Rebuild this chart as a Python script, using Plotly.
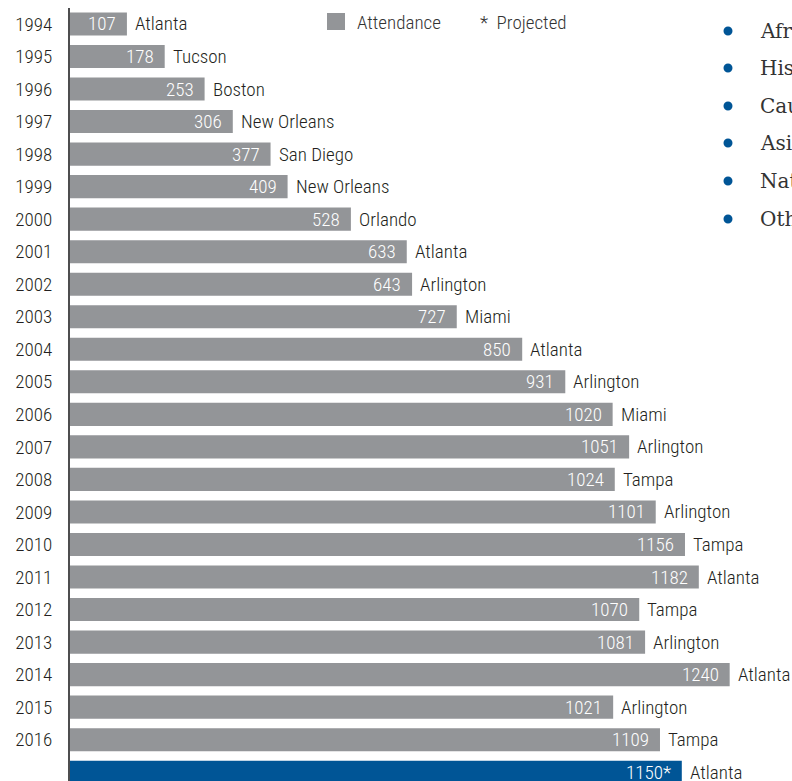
import plotly.graph_objects as go

# ---------------- data ----------------
years = [1994, 1995, 1996, 1997, 1998, 1999, 2000, 2001, 2002, 2003, 2004, 2005,
         2006, 2007, 2008, 2009, 2010, 2011, 2012, 2013, 2014, 2015, 2016, 2017]
attendance = [107, 178, 253, 306, 377, 409, 528, 633, 643, 727, 850, 931,
              1020, 1051, 1024, 1101, 1156, 1182, 1070, 1081, 1240, 1021, 1109, 1150]
cities = ["Atlanta", "Tucson", "Boston", "New Orleans", "San Diego", "New Orleans",
          "Orlando", "Atlanta", "Arlington", "Miami", "Atlanta", "Arlington",
          "Miami", "Arlington", "Tampa", "Arlington", "Tampa", "Atlanta",
          "Tampa", "Arlington", "Atlanta", "Arlington", "Tampa", "Atlanta"]
projected = [False] * 23 + [True]
ethnicity_labels = ["African American", "Hispanic", "Caucasian", "Asian",
                    "Native American", "Other"]

# ---------------- style ----------------
W, H = 792, 781
ML, MT = 70, 8
GRAY = "#939598"
BLUE = "#005596"
DARK = "#231f20"
FONT = "Roboto Condensed, Liberation Sans Narrow, DejaVu Sans Condensed, sans-serif"
SERIF = "DejaVu Serif, Liberation Serif, serif"
FS = 19

idx = list(range(len(years)))
colors = [BLUE if p else GRAY for p in projected]
value_text = [f"{v}*" if p else f"{v}" for v, p in zip(attendance, projected)]

fig = go.Figure()
fig.add_trace(go.Bar(
    y=idx, x=attendance, orientation="h",
    marker=dict(color=colors, line=dict(width=0)),
    hoverinfo="skip", showlegend=False,
))

annotations = []
for i, v, t, c in zip(idx, attendance, value_text, cities):
    annotations.append(dict(x=v, y=i, xref="x", yref="y", text=t, showarrow=False,
                            xanchor="right", yanchor="middle", xshift=-9,
                            font=dict(family=FONT, size=FS, color="white", weight=300)))
    annotations.append(dict(x=v, y=i, xref="x", yref="y", text=c, showarrow=False,
                            xanchor="left", yanchor="middle", xshift=6,
                            font=dict(family=FONT, size=FS, color=DARK, weight=300)))

pw, ph = W - ML, H - MT


def px(x):
    return (x - ML) / pw


def py(y):
    return (H - y) / ph


shapes = [dict(type="rect", xref="paper", yref="paper",
               x0=px(327), x1=px(345), y0=py(30), y1=py(13),
               fillcolor=GRAY, line=dict(width=0))]
annotations.append(dict(x=px(355), y=py(22), xref="paper", yref="paper",
                        text="Attendance", showarrow=False, xanchor="left",
                        yanchor="middle",
                        font=dict(family=FONT, size=FS, color="#333333", weight=300)))
annotations.append(dict(x=px(478), y=py(22), xref="paper", yref="paper",
                        text="*  Projected", showarrow=False, xanchor="left",
                        yanchor="middle",
                        font=dict(family=FONT, size=FS, color="#333333", weight=300)))

bullet_y = [31, 68, 106, 143, 181, 219]
for lab, by in zip(ethnicity_labels, bullet_y):
    shapes.append(dict(type="circle", xref="paper", yref="paper",
                       x0=px(723.5), x1=px(732.5), y0=py(by + 4.5), y1=py(by - 4.5),
                       fillcolor=BLUE, line=dict(width=0)))
    annotations.append(dict(x=px(758), y=py(by), xref="paper", yref="paper",
                            text=lab, showarrow=False, xanchor="left", yanchor="middle",
                            font=dict(family=SERIF, size=20, color="#333333")))

fig.update_layout(
    width=W, height=H,
    margin=dict(l=ML, r=0, t=MT, b=0, pad=0),
    paper_bgcolor="white", plot_bgcolor="white",
    bargap=0.29,
    shapes=shapes, annotations=annotations,
    xaxis=dict(range=[0, (W - ML) / 0.532], visible=False, fixedrange=True),
    yaxis=dict(range=[23.27, -0.49], autorange=False,
               tickmode="array", tickvals=idx, ticktext=[str(y) for y in years],
               showline=True, linecolor="#4d4d4f", linewidth=2,
               showgrid=False, zeroline=False, ticks="",
               ticklabelstandoff=12, fixedrange=True,
               tickfont=dict(family=FONT, size=FS, color=DARK, weight=300)),
)

fig.write_html("out.html", config={"displayModeBar": False},
               post_script="document.body.style.margin='0';")
